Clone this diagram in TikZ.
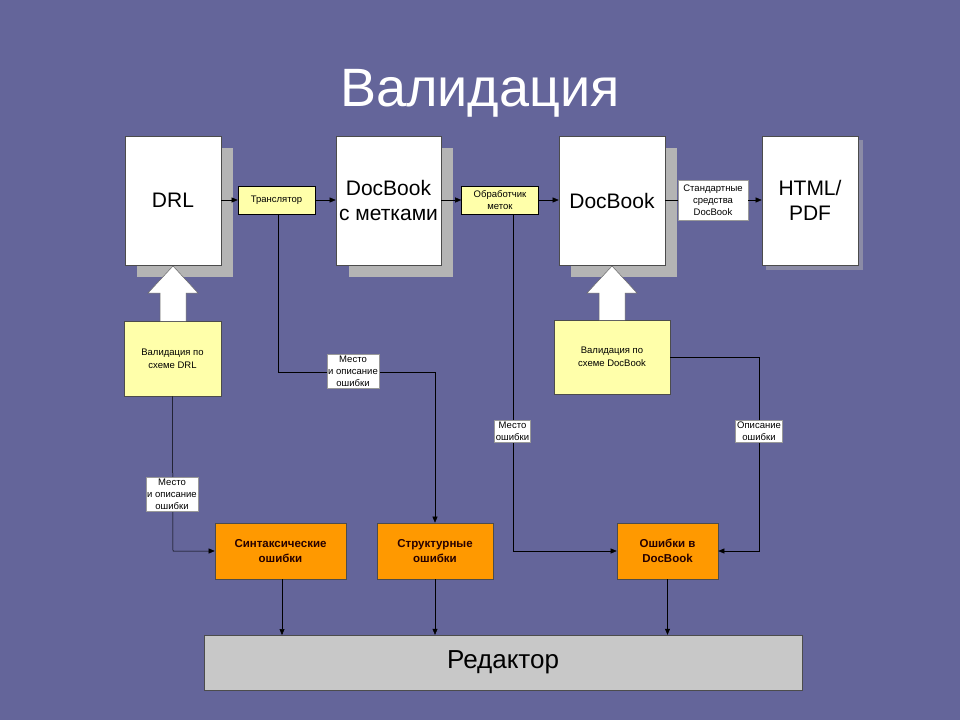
\documentclass[tikz,border=0pt]{standalone}
\usepackage{fontspec}
\setmainfont{Liberation Sans}
\usetikzlibrary{arrows.meta}
\definecolor{bg}{HTML}{64659A}
\definecolor{yel}{HTML}{FFFFAA}
\definecolor{org}{HTML}{FF9900}
\definecolor{shd}{HTML}{B4B4B4}
\definecolor{edt}{HTML}{C8C8C8}
\tikzset{
 doc/.style={draw=black!70,fill=white,line width=0.6pt,minimum width=#1,minimum height=129pt,inner sep=2pt,align=center,font=\fontsize{21}{25}\selectfont},
 shadow/.style={fill=shd,draw=none},
 proc/.style={draw=black,fill=yel,line width=0.6pt,minimum width=77pt,minimum height=28pt,inner sep=1pt,align=center,font=\fontsize{9.5}{11.5}\selectfont},
 lab/.style={draw=black!40,fill=white,inner sep=1.5pt,align=center,font=\fontsize{9.5}{12}\selectfont},
 err/.style={draw=black!70,fill=org,line width=0.6pt,minimum height=56pt,align=center,font=\bfseries\fontsize{11.5}{15}\selectfont,text=black!85!red},
 val/.style={draw=black!70,fill=yel,line width=0.6pt,align=center,font=\fontsize{9.5}{13}\selectfont},
 con/.style={-{Triangle[length=6pt,width=5pt]},line width=0.5pt,black},
 ln/.style={line width=0.5pt,black},
 blk/.style={fill=white,draw=black!60,line width=0.5pt}
}
\begin{document}
\begin{tikzpicture}[x=1pt,y=-1pt]
\fill[bg] (0,0) rectangle (960,720);
\useasboundingbox (0,0) rectangle (960,720);
\node (title) at (480,93) {\fontsize{54}{60}\selectfont\color{white}Валидация};
% shadows
\fill[shadow] (137,148) rectangle (233,277);
\fill[shadow] (349,148) rectangle (453,277);
\fill[shadow] (571,148) rectangle (677,277);
\fill[black!30,opacity=0.5] (766,140) rectangle (863,270);
% docs
\node[doc=96pt] (drl) at (173,200.5) {DRL};
\node[doc=105pt] (dbm) at (388.5,200.5) {DocBook\\с метками};
\node[doc=106pt] (db) at (612,200.5) {DocBook};
\node[doc=96pt] (html) at (810,200.5) {HTML/\\PDF};
\node[proc] (tr) at (276.5,200) {Транслятор};
\node[proc] (ob) at (500,200) {Обработчик\\меток};
\node[lab,minimum width=70pt,minimum height=40pt] (std) at (713,200) {Стандартные\\средства\\DocBook};
\draw[con] (drl.east|-tr) -- (tr);
\draw[con] (tr) -- (dbm.west|-tr);
\draw[con] (dbm.east|-ob) -- (ob);
\draw[con] (ob) -- (db.west|-ob);
\draw[ln] (db.east|-std) -- (std);
\draw[con] (std) -- (html.west|-std);
% validation boxes
\node[val,minimum width=97pt,minimum height=75pt] (vdrl) at (172.5,358.5) {Валидация по\\схеме DRL};
\node[val,minimum width=116pt,minimum height=74pt] (vdb) at (612,357) {Валидация по\\схеме DocBook};
% block arrows
\draw[blk] (160,321) -- (160,293) -- (148,293) -- (173,266) -- (198,293) -- (186,293) -- (186,321);
\draw[blk] (599,320) -- (599,293) -- (587,293) -- (612,266) -- (637,293) -- (625,293) -- (625,320);
% error boxes
\node[err,minimum width=131pt] (syn) at (280.5,551) {Синтаксические\\ошибки};
\node[err,minimum width=116pt] (str) at (435,551) {Структурные\\ошибки};
\node[err,minimum width=101pt] (edb) at (667.5,551) {Ошибки в\\DocBook};
\node[draw=black!70,fill=edt,minimum width=598pt,minimum height=55pt,font=\fontsize{26}{30}\selectfont] (ed) at (503,662.5) {Редактор};
% connectors
\coordinate (c1) at (278,372);
\coordinate (c2) at (435,372);
\draw[con] (tr.south-|c1) -- (c1) -- (c2) -- (str.north);
\node[lab] (l1) at (353,371) {Место\\и описание\\ошибки};
\coordinate (c3) at (513,551);
\draw[con] (ob.south-|c3) -- (c3) -- (edb.west);
\node[lab] (l2) at (512.5,431.5) {Место\\ошибки};
\coordinate (c4) at (759,357);
\coordinate (c5) at (759,551);
\draw[con] (vdb.east|-c4) -- (c4) -- (c5) -- (edb.east);
\node[lab] (l3) at (759,431.5) {Описание\\ошибки};
\coordinate (c6) at (173,551);
\draw[con] (vdrl.south) -- (c6) -- (syn.west);
\node[lab] (l4) at (172,494) {Место\\и описание\\ошибки};
\draw[con] (282,579) -- (282,635);
\draw[con] (str.south) -- (str.south|-ed.north);
\draw[con] (edb.south) -- (edb.south|-ed.north);
\end{tikzpicture}
\end{document}
